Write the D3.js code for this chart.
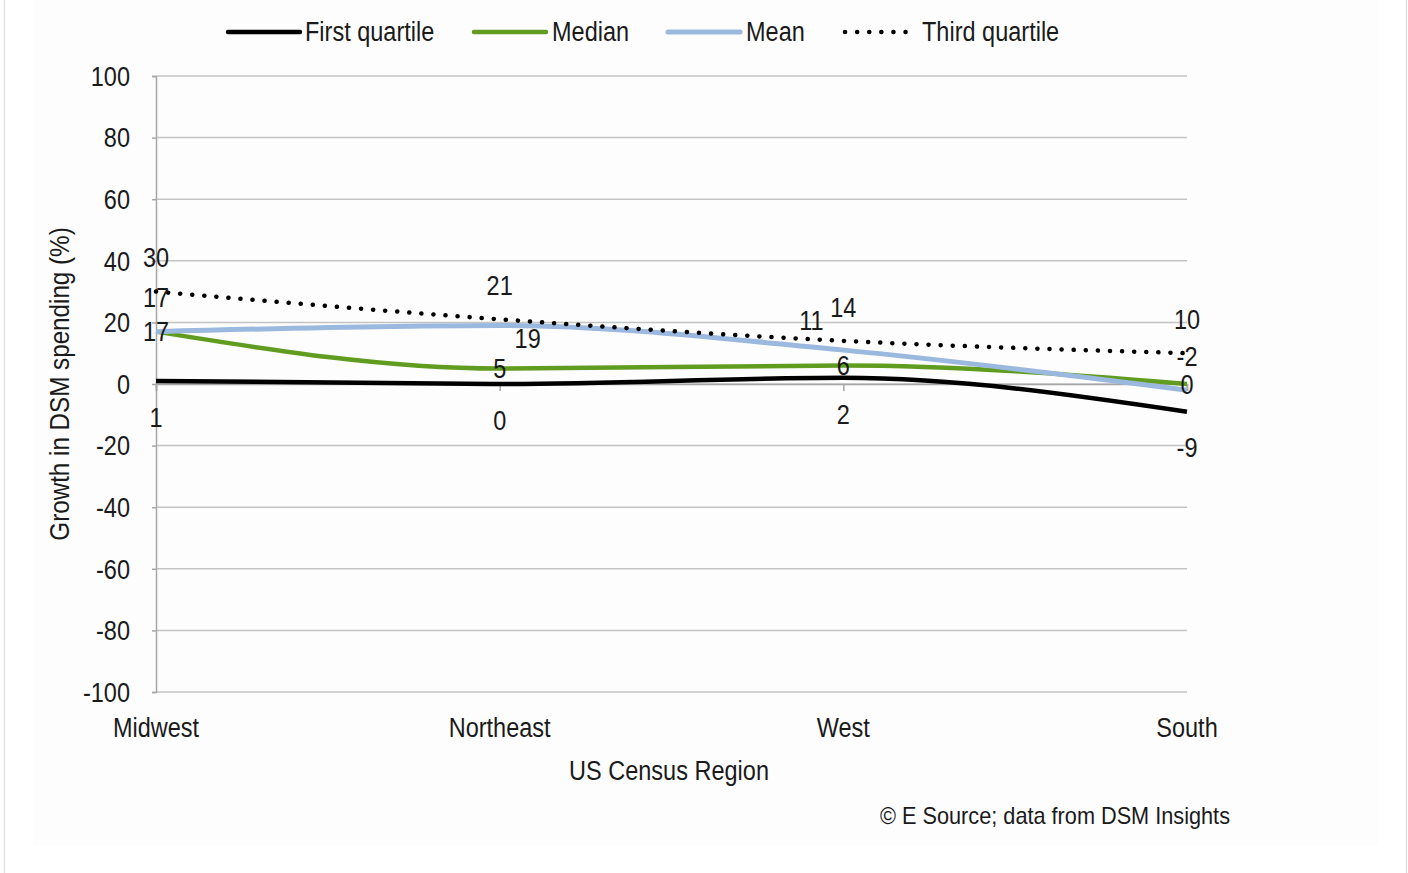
<!DOCTYPE html>
<html>
<head>
<meta charset="utf-8">
<script src="https://cdn.jsdelivr.net/npm/d3@7"></script>
<style>
  html, body { margin: 0; padding: 0; background: #ffffff; }
  svg { display: block; }
  text { font-family: "Liberation Sans", Arial, sans-serif; fill: #1a1a1a; }
</style>
</head>
<body>
<svg id="chart" width="1408" height="873"></svg>
<script>
// Growth in DSM spending by US Census region
const regions = ["Midwest", "Northeast", "West", "South"];
const firstQuartile = [1, 0, 2, -9];
const median = [17, 5, 6, 0];
const mean = [17, 19, 11, -2];
const thirdQuartile = [30, 21, 14, 10];
const yTicks = [-100, -80, -60, -40, -20, 0, 20, 40, 60, 80, 100];
const yTickLabels = ["-100", "-80", "-60", "-40", "-20", "0", "20", "40", "60", "80", "100"];
const seriesNames = ["First quartile", "Median", "Mean", "Third quartile"];

// Where each series puts its value labels relative to the point
const labelPlacement = {
  "First quartile": ["below", "below", "below", "below"],
  "Median": ["center", "center", "center", "center"],
  "Mean": ["above", "belowRight", "aboveLeft", "above"],
  "Third quartile": ["above", "above", "above", "above"]
};
const placementOffset = {
  above: [0, -34], below: [0, 36], center: [0, 0],
  belowRight: [28, 13], aboveLeft: [-32, -30]
};

const series = [
  { name: seriesNames[0], values: firstQuartile, color: "#000000", width: 4.5, dash: null },
  { name: seriesNames[1], values: median, color: "#5f9c1f", width: 4.5, dash: null },
  { name: seriesNames[2], values: mean, color: "#9bb9de", width: 5, dash: null },
  { name: seriesNames[3], values: thirdQuartile, color: "#000000", width: 4.5, dash: "0.1 12" }
];

const FS = 28, SX = 0.84;
const svg = d3.select("#chart");

// Faint frame around the chart area
svg.append("rect").attr("x", 33).attr("y", 0).attr("width", 1345).attr("height", 845).attr("fill", "#fdfdfd");
svg.append("line").attr("x1", 4.5).attr("x2", 4.5).attr("y1", 0).attr("y2", 873).attr("stroke", "#e2e2e2").attr("stroke-width", 1.5);
svg.append("line").attr("x1", 1406.5).attr("x2", 1406.5).attr("y1", 0).attr("y2", 873).attr("stroke", "#e2e2e2").attr("stroke-width", 1.5);

function label(parent, x, y, s, anchor = "middle", size = FS, sx = SX) {
  const g = parent.append("g").attr("transform", `translate(${x},${y}) scale(${sx},1)`);
  g.append("text").attr("text-anchor", anchor).attr("dominant-baseline", "central")
    .style("font-size", size + "px").text(s);
  return g;
}

const x = d3.scalePoint().domain(regions).range([156, 1187]);
const y = d3.scaleLinear().domain([-100, 100]).range([692, 76]);

// Gridlines
svg.append("g").selectAll("line").data(yTicks).join("line")
  .attr("x1", x.range()[0]).attr("x2", x.range()[1])
  .attr("y1", d => y(d)).attr("y2", d => y(d))
  .attr("stroke", "#c4c4c4").attr("stroke-width", 1.5);

// Vertical axis
const yAxis = svg.append("g").attr("transform", `translate(${x.range()[0]},0)`)
  .call(d3.axisLeft(y).tickValues(yTicks).tickSize(4).tickFormat(""));
yAxis.select(".domain").attr("stroke", "#a6a6a6").attr("stroke-width", 1.5);
yAxis.selectAll(".tick line").attr("stroke", "#a6a6a6").attr("stroke-width", 1.5);
yTicks.forEach((v, i) => label(svg, 130, y(v), yTickLabels[i], "end"));

// Category axis crossing at zero
const xAxis = svg.append("g").attr("transform", `translate(0,${y(0)})`)
  .call(d3.axisBottom(x).tickSize(7).tickFormat(""));
xAxis.select(".domain").attr("stroke", "#a6a6a6").attr("stroke-width", 1.5);
xAxis.selectAll(".tick line").attr("stroke", "#a6a6a6").attr("stroke-width", 1.5);
regions.forEach(r => label(svg, x(r), 727, r));

// Axis titles and credit
label(svg, 669, 770, "US Census Region");
const yt = svg.append("g").attr("transform", `translate(59,384) rotate(-90) scale(0.865,1)`);
yt.append("text").attr("text-anchor", "middle").attr("dominant-baseline", "central")
  .style("font-size", "28px").text("Growth in DSM spending (%)");
svg.append("text").attr("x", 1230).attr("y", 815).attr("text-anchor", "end")
  .attr("dominant-baseline", "central").style("font-size", "24px")
  .attr("textLength", 350).attr("lengthAdjust", "spacingAndGlyphs")
  .text("\u00A9 E Source; data from DSM Insights");

// Series lines
const line = d3.line().x((d, i) => x(regions[i])).y(d => y(d)).curve(d3.curveMonotoneX);
series.forEach(s => {
  svg.append("path").datum(s.values).attr("d", line)
    .attr("fill", "none").attr("stroke", s.color).attr("stroke-width", s.width)
    .attr("stroke-linecap", s.dash ? "round" : "butt")
    .attr("stroke-dasharray", s.dash);
});

// Value labels
series.forEach(s => {
  s.values.forEach((v, i) => {
    const off = placementOffset[labelPlacement[s.name][i]];
    label(svg, x(regions[i]) + off[0], y(v) + off[1], String(v));
  });
});

// Legend
const legendItems = [
  { x1: 228, x2: 300, tx: 305 },
  { x1: 474, x2: 546, tx: 552 },
  { x1: 668, x2: 740, tx: 746 },
  { x1: 845, x2: 908, tx: 922 }
];
series.forEach((s, i) => {
  const it = legendItems[i];
  svg.append("line").attr("x1", it.x1).attr("x2", it.x2).attr("y1", 32).attr("y2", 32)
    .attr("stroke", s.color).attr("stroke-width", s.width)
    .attr("stroke-linecap", "round").attr("stroke-dasharray", s.dash);
  label(svg, it.tx, 31, s.name, "start");
});
</script>
</body>
</html>
